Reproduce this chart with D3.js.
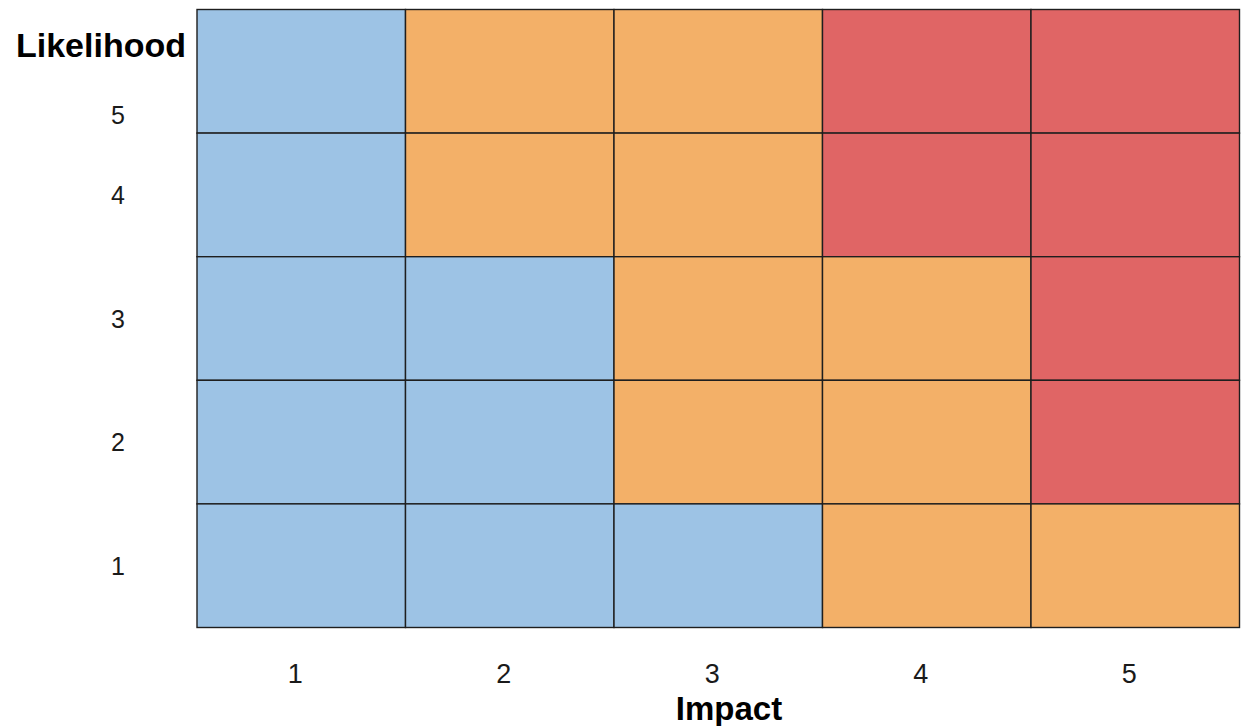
<!DOCTYPE html>
<html>
<head>
<meta charset="utf-8">
<script src="https://cdn.jsdelivr.net/npm/d3@7"></script>
<style>
    html, body { margin: 0; padding: 0; background: #fff; }
    svg { display: block; font-family: "Liberation Sans", Arial, sans-serif; }
</style>
</head>
<body>
<div id="chart"></div>
<script>
// impact along the bottom, likelihood up the side
const impact = [1, 2, 3, 4, 5];
const likelihood = [5, 4, 3, 2, 1];

// risk level per cell, rows from likelihood 5 down to 1
const riskLevels = [
    ['low', 'medium', 'medium', 'high', 'high'],
    ['low', 'medium', 'medium', 'high', 'high'],
    ['low', 'low', 'medium', 'medium', 'high'],
    ['low', 'low', 'medium', 'medium', 'high'],
    ['low', 'low', 'low', 'medium', 'medium']
];

const levelNames = ['low', 'medium', 'high'];
const levelColors = ['#9dc3e5', '#f3b068', '#e06565'];

const width = 1244;
const height = 726;
const margin = { top: 9.5, right: 4.5, bottom: 98.5, left: 197 };
const titleBaseline = 57;

const svg = d3.select('#chart')
    .append('svg')
    .attr('width', width)
    .attr('height', height);

const x = d3.scaleBand()
    .domain(impact)
    .range([margin.left, width - margin.right]);

const y = d3.scaleBand()
    .domain(likelihood)
    .range([margin.top, height - margin.bottom]);

const color = d3.scaleOrdinal()
    .domain(levelNames)
    .range(levelColors);

// flatten matrix into cells
const cells = [];
likelihood.forEach((l, i) => {
    impact.forEach((m, j) => {
        cells.push({ likelihood: l, impact: m, level: riskLevels[i][j] });
    });
});

svg.append('g')
    .selectAll('rect')
    .data(cells)
    .enter().append('rect')
    .attr('x', d => x(d.impact))
    .attr('y', d => y(d.likelihood))
    .attr('width', x.bandwidth())
    .attr('height', y.bandwidth())
    .attr('fill', d => color(d.level))
    .attr('stroke', '#1e1e1e')
    .attr('stroke-width', 1.4);

// tick labels
svg.append('g')
    .selectAll('text')
    .data(impact)
    .enter().append('text')
    .attr('x', d => x(d) + x.bandwidth() / 2 - 6)
    .attr('y', height - margin.bottom + 55)
    .attr('text-anchor', 'middle')
    .attr('font-size', '27px')
    .attr('fill', '#1a1a1a')
    .text(d => d);

// top label sits lower so it clears the Likelihood title
svg.append('g')
    .selectAll('text')
    .data(likelihood)
    .enter().append('text')
    .attr('x', 118)
    .attr('y', d => Math.max(y(d) + y.bandwidth() / 2, titleBaseline + 58))
    .attr('dy', '0.36em')
    .attr('text-anchor', 'middle')
    .attr('font-size', '25px')
    .attr('fill', '#1a1a1a')
    .text(d => d);

// axis titles
svg.append('text')
    .attr('x', 101)
    .attr('y', titleBaseline)
    .attr('text-anchor', 'middle')
    .attr('font-size', '34px')
    .attr('font-weight', 'bold')
    .attr('fill', '#000')
    .text('Likelihood');

svg.append('text')
    .attr('x', 729)
    .attr('y', 720)
    .attr('text-anchor', 'middle')
    .attr('font-size', '33px')
    .attr('font-weight', 'bold')
    .attr('fill', '#000')
    .text('Impact');
</script>
</body>
</html>
